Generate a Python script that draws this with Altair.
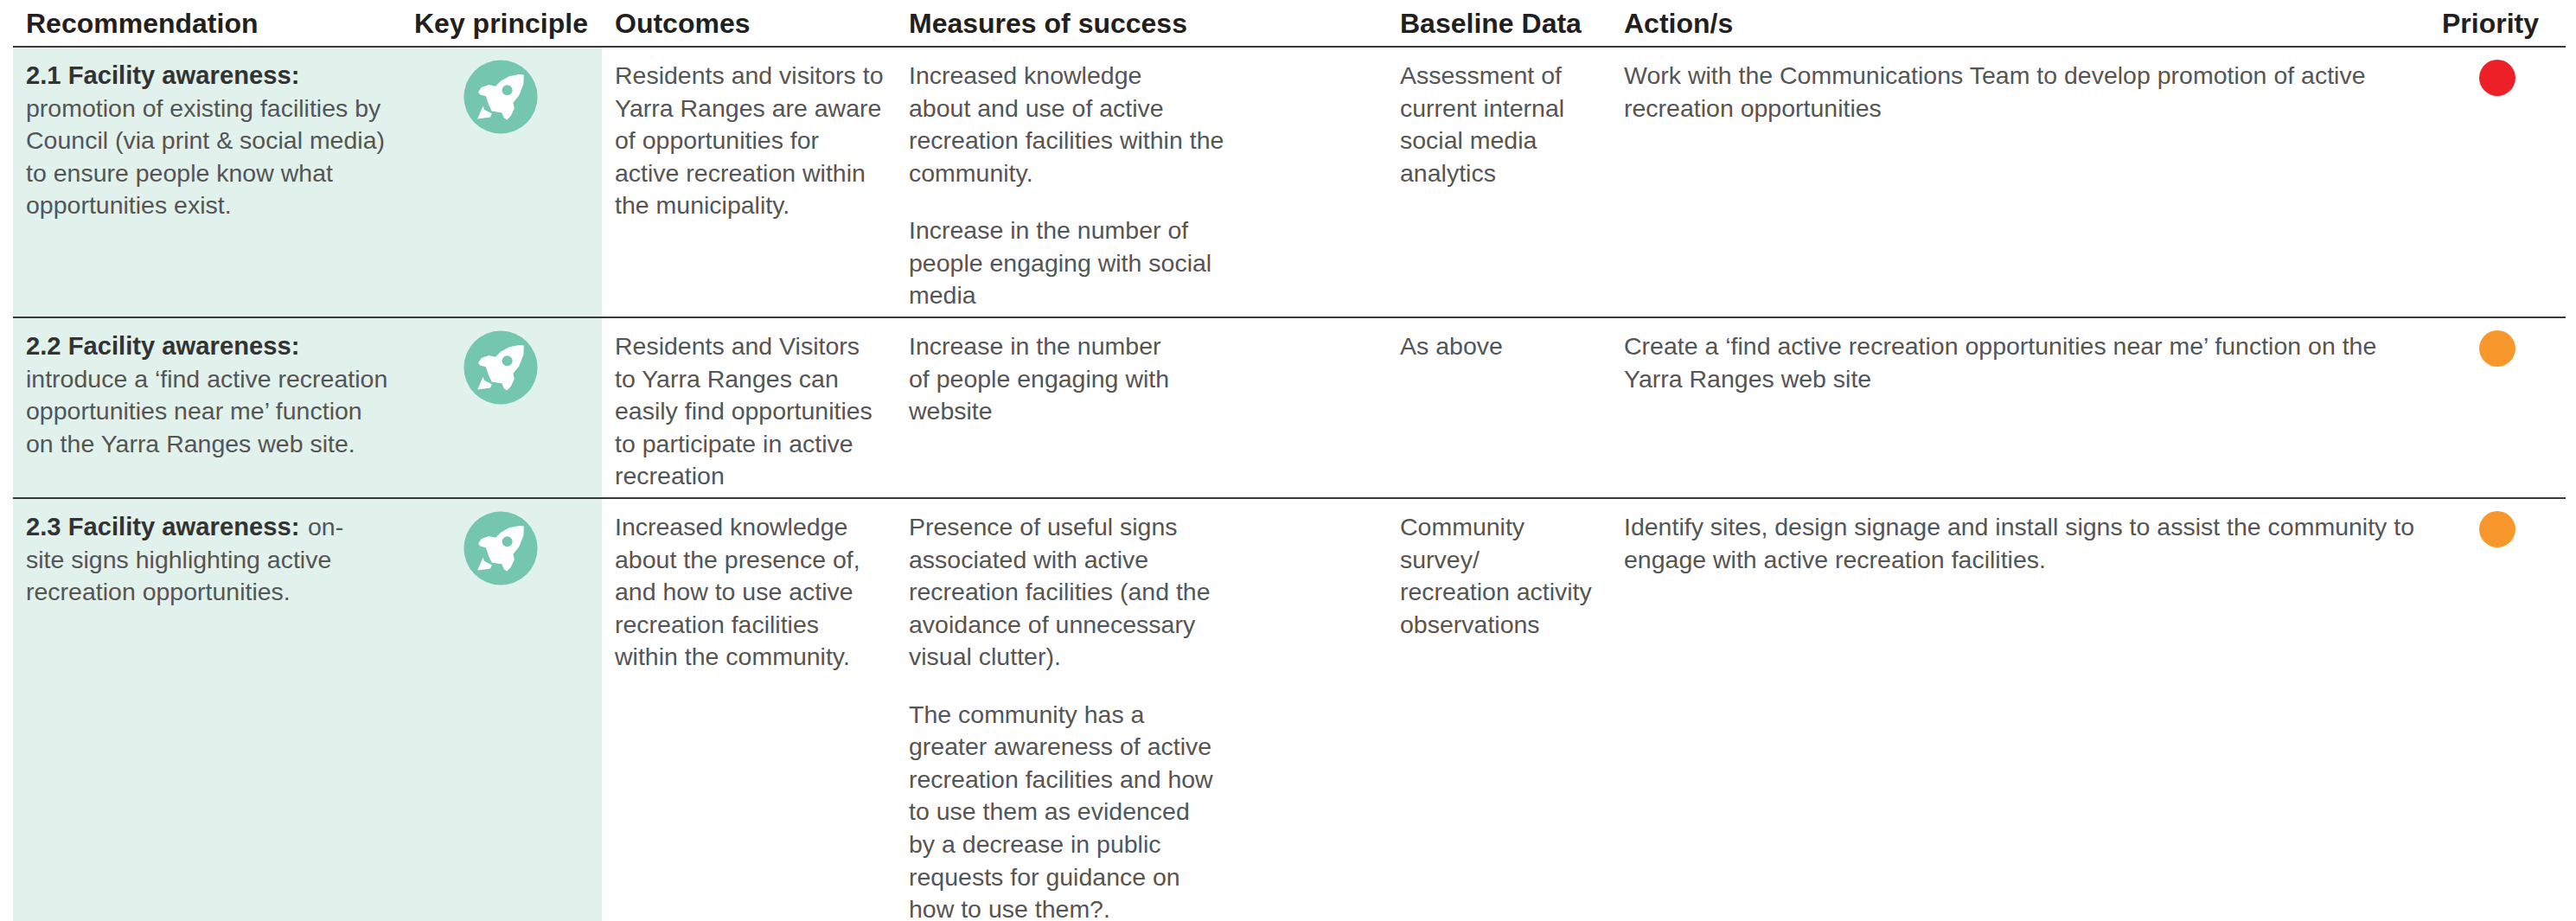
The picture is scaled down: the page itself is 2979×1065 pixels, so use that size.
import altair as alt
import pandas as pd

W, H = 2979, 1065
M = 8
HEAD_FONT = 32
BODY_FONT = 28.5
BOLD_FONT = 29.2
PITCH = 37.6
PARA_GAP = 1.76

columns = ["Recommendation", "Key principle", "Outcomes", "Measures of success", "Baseline Data", "Action/s", "Priority"]
header_x = [30, 479, 711, 1051, 1619, 1878, 2824]
body_key = ["rec", "key", "out", "mea", "bas", "act", "pri"]

rec_bold = [["2.1 Facility awareness:"], ["2.2 Facility awareness:"], ["2.3 Facility awareness:"]]
rec_light = [
    ["", "promotion of existing facilities by", "Council (via print & social media)", "to ensure people know what", "opportunities exist."],
    ["", "introduce a ‘find active recreation", "opportunities near me’ function", "on the Yarra Ranges web site."],
    ["", "site signs highlighting active", "recreation opportunities."],
]
rec_tail = [None, None, "on-"]
outcomes = [
    ["Residents and visitors to", "Yarra Ranges are aware", "of opportunities for", "active recreation within", "the municipality."],
    ["Residents and Visitors", "to Yarra Ranges can", "easily find opportunities", "to participate in active", "recreation"],
    ["Increased knowledge", "about the presence of,", "and how to use active", "recreation facilities", "within the community."],
]
measures = [
    [["Increased knowledge", "about and use of active", "recreation facilities within the", "community."],
     ["Increase in the number of", "people engaging with social", "media"]],
    [["Increase in the number", "of people engaging with", "website"]],
    [["Presence of useful signs", "associated with active", "recreation facilities (and the", "avoidance of unnecessary", "visual clutter)."],
     ["The community has a", "greater awareness of active", "recreation facilities and how", "to use them as evidenced", "by a decrease in public", "requests for guidance on", "how to use them?."]],
]
baseline = [
    ["Assessment of", "current internal", "social media", "analytics"],
    ["As above"],
    ["Community", "survey/", "recreation activity", "observations"],
]
actions = [
    ["Work with the Communications Team to develop promotion of active", "recreation opportunities"],
    ["Create a ‘find active recreation opportunities near me’ function on the", "Yarra Ranges web site"],
    ["Identify sites, design signage and install signs to assist the community to", "engage with active recreation facilities."],
]
priority = ["High", "Medium", "Medium"]
priority_colors = {"High": "#ed1f27", "Medium": "#f8982c"}

# layout
row_rules = [54, 367, 576]
row_first_line = [88, 401, 610]
icon_y = [112, 425, 634]
dot_y = [90, 403, 612]
col_x = dict(zip(body_key, header_x))
col_x["tail"] = 356
ICON_X, DOT_X = 579, 2888

hdr = pd.DataFrame({"t": columns, "x": header_x, "y": [28] * len(columns)})

body = []
bold = []
for r in range(3):
    y0 = row_first_line[r]
    bold.append({"t": rec_bold[r][0], "x": col_x["rec"], "y": y0})
    for i, s in enumerate(rec_light[r]):
        if s:
            body.append({"t": s, "x": col_x["rec"], "y": y0 + i * PITCH})
    if rec_tail[r]:
        body.append({"t": rec_tail[r], "x": col_x["tail"], "y": y0})
    for key, cells in (("out", outcomes), ("bas", baseline), ("act", actions)):
        for i, s in enumerate(cells[r]):
            body.append({"t": s, "x": col_x[key], "y": y0 + i * PITCH})
    pos = 0.0
    for p, para in enumerate(measures[r]):
        for i, s in enumerate(para):
            body.append({"t": s, "x": col_x["mea"], "y": y0 + (pos + i) * PITCH})
        pos += len(para) - 1 + PARA_GAP

x_s = alt.Scale(domain=[M, W - M], range=[0, W - 2 * M], nice=False, zero=False)
y_s = alt.Scale(domain=[M, H], range=[0, H - M], nice=False, zero=False)
X = lambda f="x": alt.X(f + ":Q", scale=x_s, axis=None)
Y = lambda f="y": alt.Y(f + ":Q", scale=y_s, axis=None)

band = alt.Chart(pd.DataFrame({"x": [15], "x2": [696], "y": [54], "y2": [H]})).mark_rect(color="#e1f1eb").encode(
    x=X(), x2="x2:Q", y=Y(), y2="y2:Q")

rules = alt.Chart(pd.DataFrame({"y": row_rules, "x": [15] * 3, "x2": [2967] * 3})).mark_rule(
    color="#3a3a3a", strokeWidth=2.2).encode(x=X(), x2="x2:Q", y=Y())

head = alt.Chart(hdr).mark_text(align="left", baseline="middle", font="Liberation Sans", fontWeight="bold",
                                fontSize=HEAD_FONT, color="#231f20").encode(x=X(), y=Y(), text="t:N")
boldt = alt.Chart(pd.DataFrame(bold)).mark_text(align="left", baseline="middle", font="Liberation Sans", fontWeight="bold",
                                                fontSize=BOLD_FONT, color="#333333").encode(x=X(), y=Y(), text="t:N")
bodyt = alt.Chart(pd.DataFrame(body)).mark_text(align="left", baseline="middle", font="Liberation Sans",
                                                fontSize=BODY_FONT, color="#555555").encode(x=X(), y=Y(), text="t:N")

icons_df = pd.DataFrame({"x": [ICON_X] * 3, "y": icon_y})
R = 42.6
disc = alt.Chart(icons_df).mark_point(shape="circle", filled=True, opacity=1, color="#74c7ae", size=(2 * R) ** 2, strokeWidth=0).encode(x=X(), y=Y())
ROCKET = ("M0.63 -0.60 L0.50 -0.61 L0.23 -0.56 L0 -0.43 L-0.14 -0.29 L-0.32 -0.33 L-0.52 -0.26 L-0.61 -0.13 "
          "L-0.56 -0.06 L-0.40 -0.02 L-0.32 0.23 L-0.24 0.39 L-0.09 0.41 L0.03 0.43 L0.09 0.57 L0.17 0.62 "
          "L0.28 0.51 L0.37 0.31 L0.34 0.16 L0.50 -0.04 L0.62 -0.35 Z "
          "M-0.48 0.25 L-0.63 0.60 L-0.28 0.55 L-0.24 0.45 L-0.44 0.35 Z")
rocket = alt.Chart(icons_df).mark_point(shape=ROCKET, filled=True, opacity=1, color="#ffffff", size=(2 * R) ** 2, strokeWidth=0).encode(x=X(), y=Y())
win_df = pd.DataFrame({"x": [ICON_X + 7.6] * 3, "y": [v - 7.7 for v in icon_y]})
window = alt.Chart(win_df).mark_point(shape="circle", filled=True, opacity=1, color="#74c7ae", size=144, strokeWidth=0).encode(x=X(), y=Y())

dots = alt.Chart(pd.DataFrame({"x": [DOT_X] * 3, "y": dot_y, "p": priority})).mark_point(
    shape="circle", filled=True, opacity=1, size=42 ** 2, strokeWidth=0).encode(
    x=X(), y=Y(),
    color=alt.Color("p:N", legend=None, scale=alt.Scale(domain=list(priority_colors), range=list(priority_colors.values()))))

chart = alt.layer(band, rules, head, boldt, bodyt, disc, rocket, window, dots).properties(
    width=W - 2 * M, height=H - M, padding=0, autosize=alt.AutoSizeParams(type="none")
).configure_view(stroke=None).resolve_scale(color="independent")

chart.save("out.html", embed_options={"renderer": "svg", "actions": False})
